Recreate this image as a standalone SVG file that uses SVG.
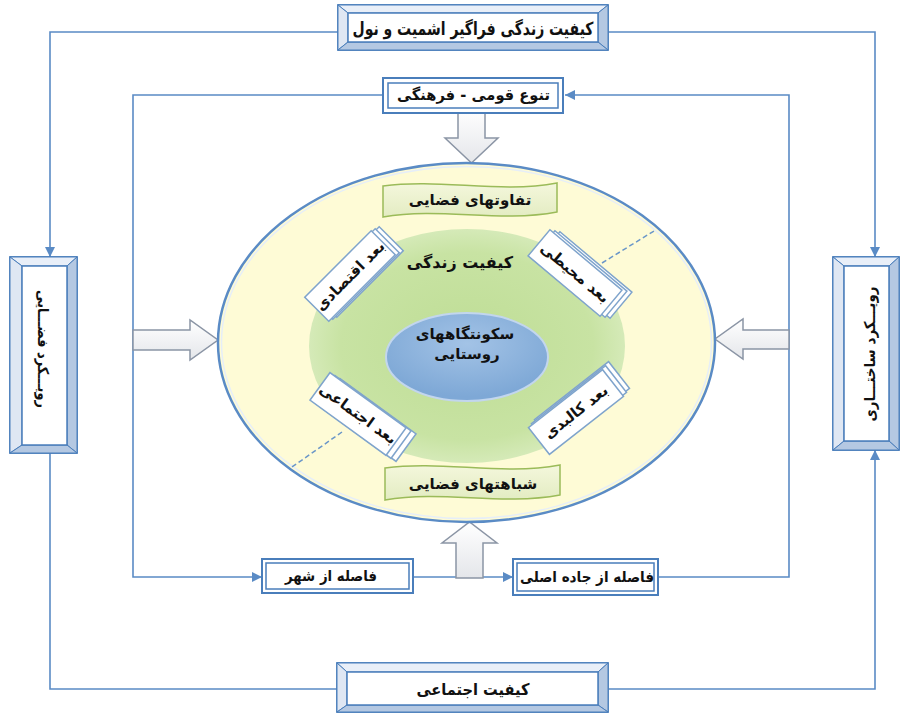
<svg xmlns="http://www.w3.org/2000/svg" width="903" height="714" viewBox="0 0 903 714">
<defs>
<style>
text{font-family:"DejaVu Sans","Noto Sans",sans-serif;font-weight:bold;fill:#111;text-anchor:middle;dominant-baseline:central}
.conn{fill:none;stroke:#5a8bc5;stroke-width:1.6}
.bv-o{fill:#d3dfee;stroke:#4a7ebb;stroke-width:1.8}
.bv-t{fill:#e9eff8;stroke:#4a7ebb;stroke-width:1}
.bv-s{fill:#dfe7f3;stroke:#4a7ebb;stroke-width:1}
.bv-d{fill:#b4c8e2;stroke:#4a7ebb;stroke-width:1}
.bv-i{fill:#fff;stroke:#4a7ebb;stroke-width:1.5}
.dbl-o{fill:#fff;stroke:#4a7ebb;stroke-width:2}
.dbl-i{fill:#fff;stroke:#4a7ebb;stroke-width:1.5}
.hollow{fill:url(#hg);stroke:#8b95a5;stroke-width:1.5}
.banner{fill:url(#bg);stroke:#9bbb59;stroke-width:1.5}
.card{fill:#fff;stroke:#7fa4cc;stroke-width:1.5}
.dash{stroke:#6a96c8;stroke-width:1.5;stroke-dasharray:5 3;fill:none}
</style>
<marker id="ah" viewBox="0 0 10 10" refX="10" refY="5" markerWidth="10" markerHeight="10" markerUnits="userSpaceOnUse" orient="auto">
<path d="M0,0 L10,5 L0,10 z" fill="#5a8bc5"/>
</marker>
<linearGradient id="hg" x1="0" y1="0" x2="0" y2="1">
<stop offset="0" stop-color="#ffffff"/><stop offset="1" stop-color="#e4e6ea"/>
</linearGradient>
<linearGradient id="bg" x1="0" y1="0" x2="0" y2="1">
<stop offset="0" stop-color="#f4f7dc"/><stop offset="1" stop-color="#e3ecc2"/>
</linearGradient>
<radialGradient id="gg" cx="0.5" cy="0.5" r="0.5">
<stop offset="0" stop-color="#bedd95"/><stop offset="0.8" stop-color="#c8e3a3"/><stop offset="1" stop-color="#d5eab8"/>
</radialGradient>
<radialGradient id="blg" cx="0.5" cy="0.35" r="0.6">
<stop offset="0" stop-color="#a3c3e6"/><stop offset="1" stop-color="#7ea8d6"/>
</radialGradient>
<rect id="card" x="-47" y="-17" width="94" height="34"/>
</defs>
<rect width="903" height="714" fill="#fff"/>

<g id="connectors">
<path class="conn" d="M338,32 H50 V257" marker-end="url(#ah)"/>
<path class="conn" d="M608,32 H875 V257" marker-end="url(#ah)"/>
<path class="conn" d="M50,453 V689 H337"/>
<path class="conn" d="M608,689 H875 V450" marker-end="url(#ah)"/>
<path class="conn" d="M383,95 H133 V577 H262" marker-end="url(#ah)"/>
<path class="conn" d="M413,577 H513" marker-end="url(#ah)"/>
<path class="conn" d="M658,577 H789 V95 H565" marker-end="url(#ah)"/>
</g>

<g id="arrow-top"><path class="hollow" d="M458,109 H485 V138 H498 L471.5,163 L445,138 H458 Z"/></g>
<g id="arrow-bottom"><path class="hollow" d="M456,578 V543 H442 L469.5,522 L497,543 H483 V578 Z"/></g>
<g id="arrow-left"><path class="hollow" d="M133,330 H190 V320 L218,340 L190,360 V350 H133 Z"/></g>
<g id="arrow-right"><path class="hollow" d="M789,330 H743 V319 L715,339 L743,359 V349 H789 Z"/></g>

<g id="outer-ellipse">
<ellipse cx="466.5" cy="342.5" rx="248.5" ry="179.5" fill="#fefbd6" stroke="#5a8bc5" stroke-width="2.5"/>
<ellipse cx="466.5" cy="342.5" rx="245" ry="176" fill="none" stroke="#e6eef8" stroke-width="1.5"/>
</g>
<g id="green-ellipse">
<ellipse cx="467" cy="346" rx="158" ry="117" fill="url(#gg)"/>
<text x="460" y="262" font-size="16">کیفیت زندگی</text>
</g>
<g id="center">
<ellipse cx="467" cy="357" rx="81" ry="44" fill="url(#blg)" stroke="#c2d6ee" stroke-width="2"/>
<text x="465" y="334" font-size="15">سکونتگاههای</text>
<text x="467" y="354" font-size="15">روستایی</text>
</g>

<g id="dashes">
<path class="dash" d="M602,263 L654,231"/>
<path class="dash" d="M342,432 L292,467"/>
</g>

<g id="banner-top">
<path class="banner" d="M383,186 C441,178 499,194 557,183 L557,212 C499,223 441,207 383,217 Z"/>
<text x="470" y="200" font-size="15">تفاوتهای فضایی</text>
</g>
<g id="banner-bottom">
<path class="banner" d="M385,468 C443,460 501,476 560,465 L560,495 C501,506 443,490 385,500 Z"/>
<text x="473" y="484" font-size="15">شباهتهای فضایی</text>
</g>

<g id="card-ul" transform="translate(350,276)">
<use href="#card" class="card" transform="translate(8,-4) rotate(-45)"/>
<use href="#card" class="card" transform="translate(4,-2) rotate(-45)"/>
<use href="#card" class="card" transform="rotate(-45)"/>
<text transform="rotate(-45)" font-size="15">بعد اقتصادی</text>
</g>
<g id="card-ur" transform="translate(575,273)">
<use href="#card" class="card" transform="translate(10,2) rotate(40)"/>
<use href="#card" class="card" transform="translate(5,1) rotate(40)"/>
<use href="#card" class="card" transform="rotate(40)"/>
<text transform="rotate(40)" font-size="15">بعد محیطی</text>
</g>
<g id="card-ll" transform="translate(358,414)">
<use href="#card" class="card" transform="translate(10,6) rotate(36)"/>
<use href="#card" class="card" transform="translate(5,3) rotate(36)"/>
<use href="#card" class="card" transform="rotate(36)"/>
<text transform="rotate(36)" font-size="15">بعد اجتماعی</text>
</g>
<g id="card-lr" transform="translate(576,412)">
<use href="#card" class="card" transform="translate(6,-8) rotate(-38)"/>
<use href="#card" class="card" transform="translate(3,-4) rotate(-38)"/>
<use href="#card" class="card" transform="rotate(-38)"/>
<text transform="rotate(-38)" font-size="15">بعد کالبدی</text>
</g>

<g id="box-top">
<rect class="bv-o" x="338" y="5" width="270" height="45"/>
<polygon class="bv-t" points="338,5 608,5 598,13 348,13"/>
<polygon class="bv-s" points="338,5 348,13 348,42 338,50"/>
<polygon class="bv-d" points="608,5 608,50 598,42 598,13"/>
<polygon class="bv-d" points="338,50 608,50 598,42 348,42"/>
<rect class="bv-i" x="348" y="13" width="250" height="29"/>
<text x="473" y="28" font-size="18" textLength="241" lengthAdjust="spacingAndGlyphs">کیفیت زندگی فراگیر اشمیت و نول</text>
</g>

<g id="box-bottom">
<rect class="bv-o" x="337" y="663" width="271" height="49"/>
<polygon class="bv-t" points="337,663 608,663 598,672 347,672"/>
<polygon class="bv-s" points="337,663 347,672 347,705 337,712"/>
<polygon class="bv-d" points="608,663 608,712 598,705 598,672"/>
<polygon class="bv-d" points="337,712 608,712 598,705 347,705"/>
<rect class="bv-i" x="347" y="672" width="251" height="33"/>
<text x="473" y="689" font-size="16" textLength="113" lengthAdjust="spacingAndGlyphs">کیفیت اجتماعی</text>
</g>

<g id="box-left">
<rect class="bv-o" x="10" y="257" width="67" height="196"/>
<polygon class="bv-t" points="10,257 77,257 67,266 22,266"/>
<polygon class="bv-s" points="10,257 22,266 22,445 10,453"/>
<polygon class="bv-d" points="77,257 77,453 67,445 67,266"/>
<polygon class="bv-d" points="10,453 77,453 67,445 22,445"/>
<rect class="bv-i" x="22" y="266" width="45" height="179"/>
<text transform="translate(43,349) rotate(90)" font-size="15" textLength="118" lengthAdjust="spacingAndGlyphs">رویـــکرد فضـــایی</text>
</g>

<g id="box-right">
<rect class="bv-o" x="833" y="257" width="66" height="193"/>
<polygon class="bv-t" points="833,257 899,257 889,266 844,266"/>
<polygon class="bv-s" points="833,257 844,266 844,441 833,450"/>
<polygon class="bv-d" points="899,257 899,450 889,441 889,266"/>
<polygon class="bv-d" points="833,450 899,450 889,441 844,441"/>
<rect class="bv-i" x="844" y="266" width="45" height="175"/>
<text transform="translate(870,354) rotate(-90)" font-size="15" textLength="135" lengthAdjust="spacingAndGlyphs">رویـــکرد ساختـــاری</text>
</g>

<g id="box-tanavo">
<rect class="dbl-o" x="383" y="78" width="180" height="35"/>
<rect class="dbl-i" x="388" y="83" width="170" height="25"/>
<text x="473.5" y="95" font-size="15" textLength="153" lengthAdjust="spacingAndGlyphs">تنوع قومی - فرهنگی</text>
</g>

<g id="box-shahr">
<rect class="dbl-o" x="262" y="559" width="151" height="34"/>
<rect class="dbl-i" x="266" y="563" width="143" height="26"/>
<text x="331" y="576" font-size="15" textLength="92" lengthAdjust="spacingAndGlyphs">فاصله از شهر</text>
</g>

<g id="box-jadeh">
<rect class="dbl-o" x="513" y="559" width="145" height="36"/>
<rect class="dbl-i" x="517" y="563" width="137" height="28"/>
<text x="587" y="577" font-size="15" textLength="134" lengthAdjust="spacingAndGlyphs">فاصله از جاده اصلی</text>
</g>
</svg>
